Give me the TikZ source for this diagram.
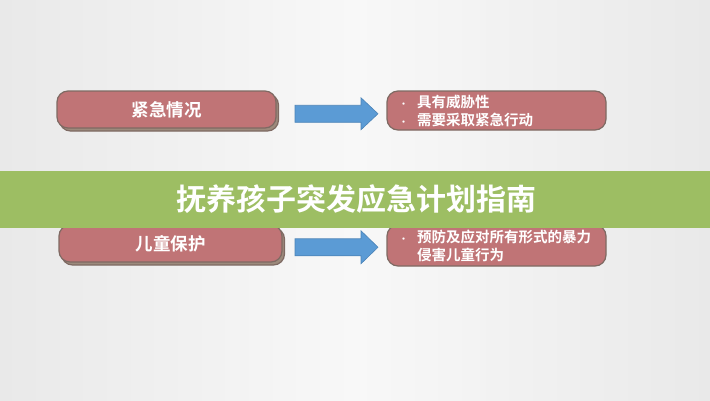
\documentclass[tikz,border=0pt]{standalone}
\usepackage{fontspec}
\newfontfamily\cjk{Noto Sans CJK SC}[BoldFont={Noto Sans CJK SC Bold}]
\usetikzlibrary{shadows}
\definecolor{boxc}{HTML}{C07476}
\definecolor{bordc}{HTML}{7E6A63}
\definecolor{shadc}{HTML}{9C8A7C}
\definecolor{arrc}{HTML}{5B9BD5}
\definecolor{arrb}{HTML}{4C84B8}
\definecolor{bandc}{HTML}{9DBE63}
\definecolor{bgedge}{HTML}{E9E9E9}
\definecolor{bgmid}{HTML}{F8F8F8}
\begin{document}
\begin{tikzpicture}[x=1pt,y=-1pt,
  redbox/.style={draw=bordc, line width=1.2pt, fill=boxc, rounded corners=11pt, inner sep=0pt},
  leftbox/.style={redbox, copy shadow={shadow xshift=2.5pt, shadow yshift=-3pt, fill=shadc, draw=bordc},
    text=white, font=\cjk\bfseries\fontsize{17.5}{20}\selectfont},
  rightbox/.style={redbox, text=white, font=\cjk\bfseries\fontsize{14.5}{18}\selectfont,
    inner xsep=12pt, align=left},
  blockarrow/.style={fill=arrc, draw=arrb, line width=0.6pt},
  titletext/.style={text=white, font=\cjk\bfseries\fontsize{30}{34}\selectfont}
]
\useasboundingbox (0,0) rectangle (710,400);
\shade[left color=bgedge, right color=bgedge, middle color=bgmid] (0,0) rectangle (710,400);

% row 1
\node[leftbox, minimum width=219pt, minimum height=37pt] (l1) at (166.5,109.5) {紧急情况};
\node[rightbox, minimum width=219pt, minimum height=39pt, text width=195pt] (r1) at (496.5,110.5)
  {\makebox[18pt][l]{\small•}具有威胁性\\\makebox[18pt][l]{\small•}需要采取紧急行动};
\coordinate (a1s) at (295,113.75);
\filldraw[blockarrow] (a1s) ++(0,-8.5) -- ++(66,0) -- ++(0,-7.5) -- ++(17,16) -- ++(-17,16) -- ++(0,-7.5) -- ++(-66,0) -- cycle;

% row 2
\node[leftbox, minimum width=223pt, minimum height=37pt] (l2) at (170.5,243.5) {儿童保护};
\node[rightbox, minimum width=219pt, minimum height=41pt, text width=195pt] (r2) at (496.5,245.5)
  {\makebox[18pt][l]{\small•}预防及应对所有形式的暴力\\\hspace*{18pt}侵害儿童行为};
\coordinate (a2s) at (295,247);
\filldraw[blockarrow] (a2s) ++(0,-8.25) -- ++(66,0) -- ++(0,-8) -- ++(17,16.5) -- ++(-17,16.5) -- ++(0,-8) -- ++(-66,0) -- cycle;

% title band
\fill[bandc] (0,171) rectangle (710,228);
\node[titletext] (title) at (356,199.5) {抚养孩子突发应急计划指南};
\end{tikzpicture}
\end{document}
